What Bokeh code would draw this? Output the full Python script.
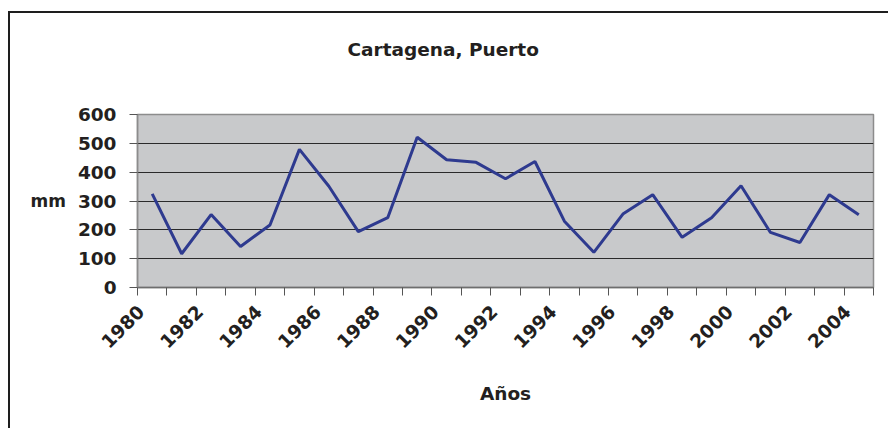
import math
from bokeh.plotting import figure
from bokeh.models import FixedTicker, Range1d, Title
from bokeh.embed import file_html
from bokeh.resources import INLINE

# ---- data ----
years = list(range(1980, 2005))
precip_mm = [325, 117, 253, 142, 217, 479, 351, 194, 242, 521, 443, 434, 377,
             437, 230, 122, 256, 322, 174, 242, 353, 191, 156, 322, 252]
label_years = years[::2]
y_ticks = [0, 100, 200, 300, 400, 500, 600]
grid_values = [100, 200, 300, 400, 500]
title_text = "Cartagena, Puerto"
x_label = "Años"
y_label = "mm"

TEXT = "#231F20"
FONT = "DejaVu Sans"
LABEL_SHIFT = 0.38  # rotated year labels end slightly left of category centre

p = figure(width=880, height=417, output_backend="svg", toolbar_location=None,
           title=None,
           x_range=Range1d(years[0] - 0.5, years[-1] + 0.5),
           y_range=Range1d(y_ticks[0], y_ticks[-1]),
           min_border_left=127, min_border_right=17,
           min_border_top=101, min_border_bottom=143,
           background_fill_color="#C8C9CB", border_fill_color="white",
           styles={"border-left": "2px solid #1e1e1e",
                   "border-top": "2px solid #1e1e1e",
                   "margin-top": "11px",
                   "margin-left": "8px"})

p.outline_line_color = "#8C8C8C"
p.outline_line_width = 1.5

# blank spacer between plot area and title, then the title itself
spacer = Title(text=" ", text_font_size="1px", standoff=47)
p.add_layout(spacer, "above")
chart_title = Title(text=title_text, align="left", offset=210, standoff=10,
                    text_font=FONT, text_font_style="bold",
                    text_font_size="18.5px", text_color=TEXT)
p.add_layout(chart_title, "above")

p.line(years, precip_mm, line_color="#2E3A8F", line_width=3)

# grids
p.xgrid.visible = False
p.ygrid.ticker = FixedTicker(ticks=grid_values)
p.ygrid.grid_line_color = "#2a2a2a"
p.ygrid.grid_line_width = 1

# y axis
ya = p.yaxis[0]
ya.ticker = FixedTicker(ticks=y_ticks)
ya.axis_line_color = "#8C8C8C"
ya.axis_line_width = 1.5
ya.major_tick_out = 8
ya.major_tick_in = 0
ya.minor_tick_out = 0
ya.minor_tick_in = 0
ya.major_tick_line_color = "#555555"
ya.major_label_text_font = FONT
ya.major_label_text_font_style = "bold"
ya.major_label_text_font_size = "18.5px"
ya.major_label_text_color = TEXT
ya.major_label_standoff = 13
ya.axis_label = y_label
ya.axis_label_orientation = "horizontal"
ya.axis_label_text_font = FONT
ya.axis_label_text_font_style = "bold"
ya.axis_label_text_font_size = "17px"
ya.axis_label_text_color = TEXT
ya.axis_label_standoff = 9

# x axis
tick_pos = [round(y - LABEL_SHIFT, 2) for y in label_years]
xa = p.xaxis[0]
xa.ticker = FixedTicker(ticks=tick_pos,
                        minor_ticks=[y - 0.5 for y in years] + [years[-1] + 0.5])
xa.major_label_overrides = {t: str(y) for t, y in zip(tick_pos, label_years)}
xa.axis_line_color = "#6E6E6E"
xa.axis_line_width = 1.5
xa.major_tick_out = 0
xa.major_tick_in = 0
xa.minor_tick_out = 8
xa.minor_tick_in = 0
xa.minor_tick_line_color = "#555555"
xa.major_label_orientation = math.pi / 4
xa.major_label_text_font = FONT
xa.major_label_text_font_style = "bold"
xa.major_label_text_font_size = "18.5px"
xa.major_label_text_color = TEXT
xa.major_label_standoff = 13
xa.axis_label = x_label
xa.axis_label_text_font = FONT
xa.axis_label_text_font_style = "bold"
xa.axis_label_text_font_size = "18.5px"
xa.axis_label_text_color = TEXT
xa.axis_label_standoff = 26

open("out.html", "w").write(file_html(p, INLINE))
